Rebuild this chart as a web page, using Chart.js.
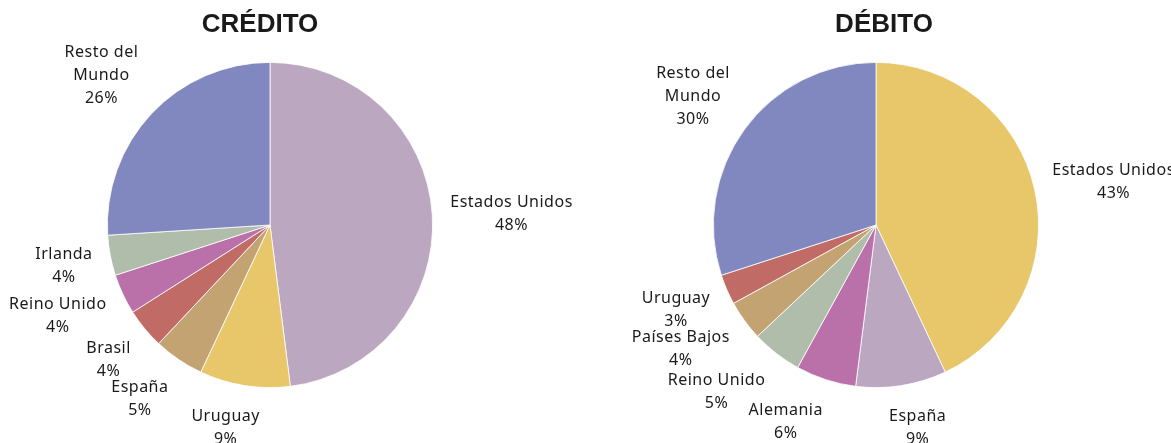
<!DOCTYPE html>
<html>
<head>
<meta charset="utf-8">
<script src="https://cdn.jsdelivr.net/npm/chart.js@4"></script>
<style>
  body { margin: 0; background: #fff; }
  .box { position: absolute; top: 0; height: 443px; }
</style>
</head>
<body>
<div class="box" style="left:0;width:585px"><canvas id="creditoChart"></canvas></div>
<div class="box" style="left:585px;width:586px"><canvas id="debitoChart"></canvas></div>
<script>
const creditoLabels = ['Estados Unidos', 'Uruguay', 'España', 'Brasil', 'Reino Unido', 'Irlanda', ['Resto del', 'Mundo']];
const creditoValues = [48, 9, 5, 4, 4, 4, 26];

const debitoLabels = ['Estados Unidos', 'España', 'Alemania', 'Reino Unido', 'Países Bajos', 'Uruguay', ['Resto del', 'Mundo']];
const debitoValues = [43, 9, 6, 5, 4, 3, 30];

const creditoColors = ['#bca7c1', '#e8c76a', '#c4a373', '#c06b65', '#ba71a9', '#b0bdaa', '#8088bf'];
const debitoColors = ['#e8c76a', '#bca7c1', '#ba71a9', '#b0bdaa', '#c4a373', '#c06b65', '#8088bf'];

const labelFont = '16px "Noto Sans"';
const lineH = 23;
const pad = 18;

const clamp = v => Math.max(-1, Math.min(1, v));

// draws "name / xx%" outside each slice, the box pushed away from the rim
const outsideLabels = {
  id: 'outsideLabels',
  afterDatasetsDraw(chart) {
    const ctx = chart.ctx;
    const meta = chart.getDatasetMeta(0);
    const values = chart.data.datasets[0].data;
    ctx.save();
    ctx.font = labelFont;
    ctx.letterSpacing = '0.5px';
    ctx.fillStyle = '#1a1a1a';
    ctx.textAlign = 'center';
    ctx.textBaseline = 'middle';
    meta.data.forEach((arc, i) => {
      const p = arc.getProps(['x', 'y', 'startAngle', 'endAngle', 'outerRadius'], true);
      const mid = (p.startAngle + p.endAngle) / 2;
      const dx = Math.cos(mid), dy = Math.sin(mid);
      const name = chart.data.labels[i];
      const lines = (Array.isArray(name) ? name : [name]).concat([values[i] + '%']);
      const w = Math.max(...lines.map(t => ctx.measureText(t).width));
      const h = lines.length * lineH;
      const r = p.outerRadius + pad;
      const cx = p.x + r * dx + clamp(3 * dx) * w / 2;
      const cy = p.y + r * dy + clamp(1.2 * dy) * h / 2 + 2;
      lines.forEach((t, k) => {
        ctx.fillText(t, cx, cy - h / 2 + lineH * (k + 0.5));
      });
    });
    ctx.restore();
  }
};

// chart heading, centred over the chart block rather than the pie
const sideTitle = {
  id: 'sideTitle',
  afterDraw(chart, args, opts) {
    const ctx = chart.ctx;
    const a = chart.chartArea;
    ctx.save();
    ctx.font = 'bold 26px "Liberation Sans", Arial';
    ctx.fillStyle = '#1a1a1a';
    ctx.textAlign = 'center';
    ctx.textBaseline = 'middle';
    ctx.fillText(opts.text, (a.left + a.right) / 2 + opts.dx, 25);
    ctx.restore();
  }
};

function makePie(id, title, titleDx, labels, values, colors, padding) {
  return new Chart(document.getElementById(id), {
    type: 'pie',
    data: {
      labels: labels,
      datasets: [{
        data: values,
        backgroundColor: colors,
        borderColor: '#ffffff',
        borderWidth: 0.8
      }]
    },
    options: {
      responsive: true,
      maintainAspectRatio: false,
      animation: false,
      layout: { padding: padding },
      plugins: {
        legend: { display: false },
        tooltip: { enabled: false },
        title: { display: false },
        sideTitle: { text: title, dx: titleDx }
      }
    },
    plugins: [outsideLabels, sideTitle]
  });
}

makePie('creditoChart', 'CRÉDITO', -10, creditoLabels, creditoValues, creditoColors, { left: 0, right: 45, top: 62, bottom: 55 });
makePie('debitoChart', 'DÉBITO', 8, debitoLabels, debitoValues, debitoColors, { left: 20, right: 24, top: 62, bottom: 55 });
</script>
</body>
</html>
